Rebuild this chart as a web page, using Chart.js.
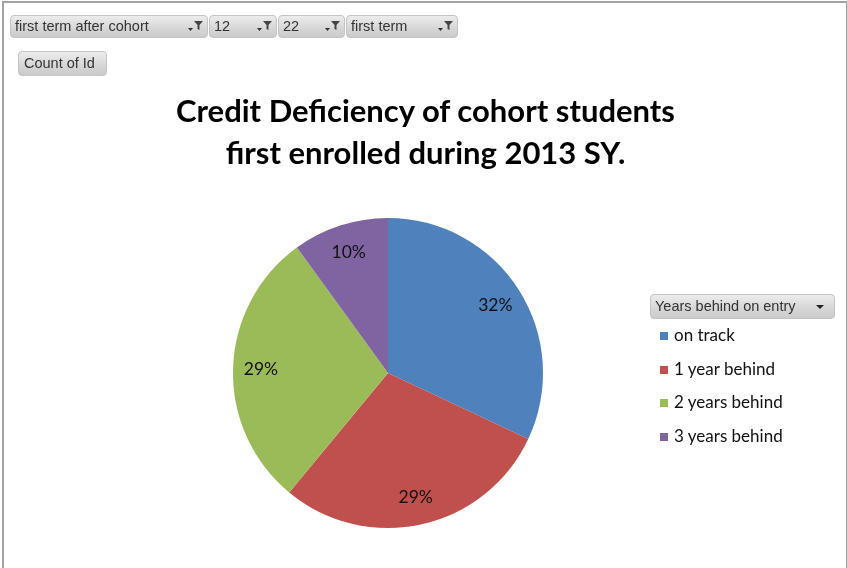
<!DOCTYPE html>
<html>
<head>
<meta charset="utf-8">
<script src="https://cdn.jsdelivr.net/npm/chart.js@4"></script>
<style>
html,body{margin:0;padding:0;background:#fff}
#wrap{position:relative;width:847px;height:568px;overflow:hidden;background:#fff}
#frame{position:absolute;left:2px;top:1px;width:842px;height:600px;border-left:2px solid #a3a3a3;border-top:2px solid #a3a3a3;border-right:2px solid #a3a3a3}
#cv{position:absolute;left:0;top:0}
#title{position:absolute;left:0;width:851px;top:89px;text-align:center;font:bold 31px Lato,"Open Sans",sans-serif;line-height:42px;color:#000}
.fbtn{position:absolute;height:23px;box-sizing:border-box;border:1px solid #c4c4c4;border-radius:4px;
  background:linear-gradient(#ececec,#d6d6d6 60%,#cbcbcb);font:14.5px "Liberation Sans",Arial,sans-serif;color:#333;
  line-height:21px;padding-left:4px;white-space:nowrap}
.fbtn svg{position:absolute;right:3px;top:3px}
#legend{position:absolute;left:650px;top:294px;width:185px}
.litem{position:absolute;left:10px;font:17px Lato,"Open Sans",sans-serif;color:#111;white-space:nowrap}
.litem i{display:inline-block;width:8px;height:8px;margin-right:6px;vertical-align:1px}
</style>
</head>
<body>
<div id="wrap">
  <div id="frame"></div>
  <canvas id="cv" width="847" height="568"></canvas>
  <div id="title"></div>
  <div id="filters"></div>
  <div class="fbtn" style="left:18px;top:51px;width:89px;height:25px;line-height:23px;padding-left:5px">Count of Id</div>
  <div id="legend">
    <div class="fbtn" style="left:0;top:0;width:185px;height:25px;line-height:23px">Years behind on entry
      <svg width="12" height="12" style="right:7px;top:7px"><path d="M1 3h8l-4 4z" fill="#222"/></svg></div>
  </div>
</div>
<script>
// slices: years behind on entry
var groups=['on track','1 year behind','2 years behind','3 years behind'];
var pct=[32,29,29,10];
var colors=['#4f81bd','#c0504d','#9bbb59','#8064a2'];
var titleLines=['Credit Deficiency of cohort students','first enrolled during 2013 SY.'];

document.getElementById('title').innerHTML=titleLines.join('<br>');

// pivot page filters across the top
var filters=[{t:'first term after cohort',x:10,w:198},{t:'12',x:209,w:68},{t:'22',x:278,w:67},{t:'first term',x:346,w:112}];
var funnel='<svg width="18" height="14"><path d="M2 9h5l-2.5 3z" fill="#333"/><path d="M8 2h9l-3.5 4v5l-2-1v-4z" fill="#444"/></svg>';
var fh='';
filters.forEach(function(f){fh+='<div class="fbtn" style="left:'+f.x+'px;top:15px;width:'+f.w+'px">'+f.t+funnel+'</div>';});
document.getElementById('filters').innerHTML=fh;

// legend list under the field button
var lg=document.getElementById('legend'),lh=lg.innerHTML;
groups.forEach(function(g,i){lh+='<div class="litem" style="top:'+(30+i*33.7)+'px"><i style="background:'+colors[i]+'"></i>'+g+'</div>';});
lg.innerHTML=lh;

// percent labels inside each slice
var pctLabels={id:'pctLabels',afterDatasetsDraw:function(chart){
  var ctx=chart.ctx,meta=chart.getDatasetMeta(0);
  ctx.save();
  ctx.font='17.5px Lato, "Open Sans", sans-serif';ctx.fillStyle='#111';
  ctx.textAlign='center';ctx.textBaseline='middle';
  meta.data.forEach(function(arc,i){
    var mid=(arc.startAngle+arc.endAngle)/2,r=arc.outerRadius*0.82;
    ctx.fillText(pct[i]+'%',arc.x+Math.cos(mid)*r,arc.y+Math.sin(mid)*r);
  });
  ctx.restore();
}};

new Chart(document.getElementById('cv'),{
  type:'pie',
  data:{labels:groups,datasets:[{data:pct,backgroundColor:colors,borderWidth:0,hoverOffset:0}]},
  options:{responsive:false,animation:false,
    layout:{padding:{top:218,left:233,right:304,bottom:40}},
    plugins:{legend:{display:false},tooltip:{enabled:false},title:{display:false}}},
  plugins:[pctLabels]
});
</script>
</body>
</html>
